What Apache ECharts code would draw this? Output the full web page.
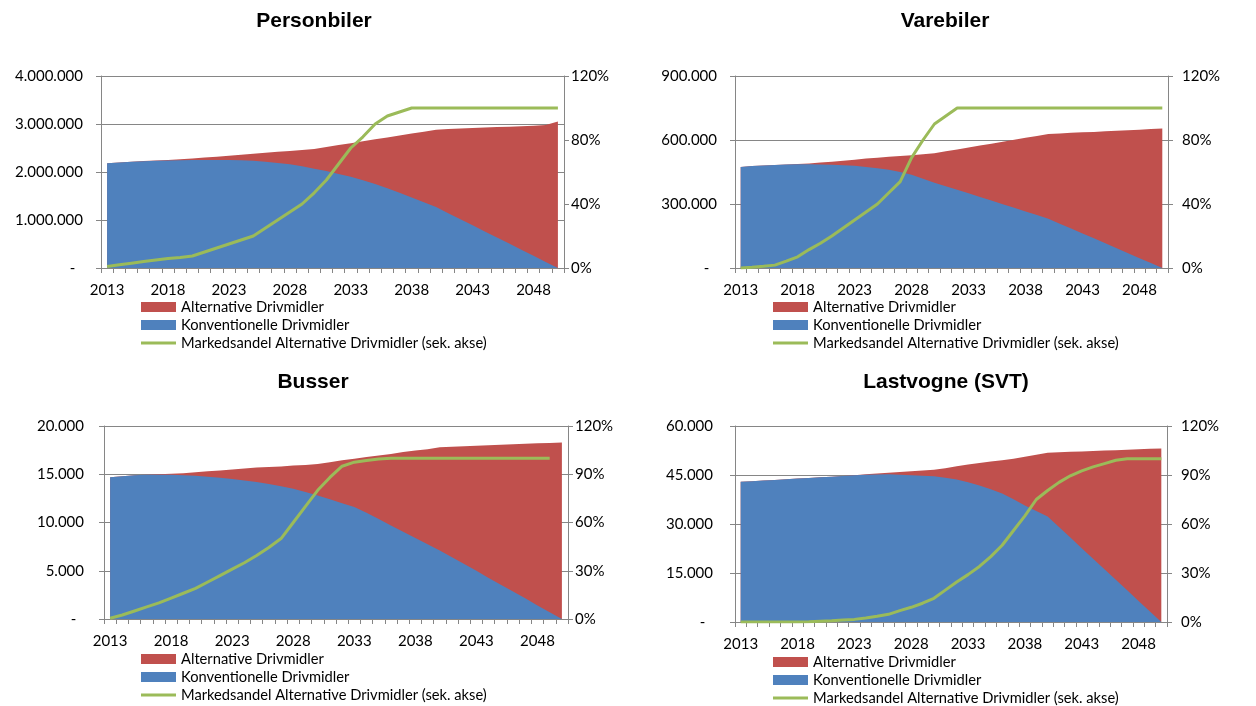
<!DOCTYPE html>
<html><head><meta charset="utf-8">
<script src="https://cdn.jsdelivr.net/npm/echarts@6/dist/echarts.min.js"></script>
<style>html,body{margin:0;padding:0;background:#fff}#c{width:1256px;height:706px}</style>
</head><body><div id="c"></div>
<script>
// ---------- DATA ----------
const years = ['2013','2014','2015','2016','2017','2018','2019','2020','2021','2022','2023','2024','2025','2026','2027','2028','2029','2030','2031','2032','2033','2034','2035','2036','2037','2038','2039','2040','2041','2042','2043','2044','2045','2046','2047','2048','2049','2050'];

const seriesNames = ['Alternative Drivmidler', 'Konventionelle Drivmidler', 'Markedsandel Alternative Drivmidler (sek. akse)'];
const panelTitles = ['Personbiler', 'Varebiler', 'Busser', 'Lastvogne (SVT)'];

// Personbiler: total fleet (top of red), conventional (blue), market share %
const personTotal = [2180000,2200000,2215000,2230000,2240000,2250000,2265000,2280000,2300000,2320000,2340000,2360000,2380000,2400000,2420000,2440000,2460000,2480000,2520000,2560000,2600000,2640000,2680000,2720000,2760000,2800000,2840000,2880000,2895000,2905000,2915000,2925000,2935000,2945000,2955000,2965000,2980000,3050000];
const personKonv = [2180000,2200000,2215000,2225000,2235000,2240000,2245000,2250000,2250000,2250000,2250000,2245000,2235000,2215000,2190000,2160000,2120000,2070000,2020000,1960000,1900000,1830000,1750000,1660000,1570000,1470000,1370000,1270000,1143000,1016000,889000,762000,635000,508000,381000,254000,127000,0];
const personShare = [1,2,3,4,5,6,6.5,7.5,10,12.5,15,17.5,20,25,30,35,40,47,55,65,75,82,90,95,97.5,100,100,100,100,100,100,100,100,100,100,100,100,100];

// Varebiler
const vareTotal = [473000,478000,481000,483000,485000,487000,490000,494000,498000,503000,508000,513000,517000,521000,525000,529000,533000,538000,547000,556000,565000,574000,583000,592000,601000,610000,619000,628000,631000,634000,636000,638000,641000,643000,646000,648000,651000,654000];
const vareKonv = [473000,478000,481000,483000,485000,486000,486000,485000,484000,482000,479000,474000,468000,460000,450000,437000,418000,400000,383000,367000,350000,333000,316000,299000,282000,265000,248000,231000,208000,185000,162000,139000,116000,92000,69000,46000,23000,0];
const vareShare = [0,0.5,1.1,1.8,4.3,7,11.5,15.5,20,25,30,35,40,47,54,69,80,90,95,100,100,100,100,100,100,100,100,100,100,100,100,100,100,100,100,100,100,100];

// Busser
const busTotal = [14700,14800,14900,14950,15000,15050,15100,15200,15300,15400,15500,15600,15700,15750,15800,15900,15950,16050,16250,16450,16600,16800,16950,17100,17300,17450,17600,17800,17850,17900,17950,18000,18050,18100,18150,18200,18250,18300];
const busKonv = [14700,14800,14900,14950,14950,14950,14900,14850,14750,14650,14500,14350,14200,14000,13750,13500,13150,12800,12400,12000,11600,11000,10350,9700,9050,8400,7750,7100,6400,5700,5000,4250,3550,2850,2150,1400,700,0];
const busShare = [0.5,2.5,5,7.5,10,13,16,19,23,27,31,35,39.5,44.5,50,60,70,80,88,95,97.5,98.5,99.5,100,100,100,100,100,100,100,100,100,100,100,100,100,100,null];

// Lastvogne (SVT)
const truckTotal = [42900,43100,43300,43500,43700,43900,44100,44300,44500,44700,44900,45200,45450,45700,45900,46150,46400,46600,47100,47700,48200,48650,49100,49550,50000,50600,51200,51800,51950,52100,52200,52350,52500,52600,52750,52850,53000,53100];
const truckKonv = [42900,43100,43300,43500,43700,43900,44100,44300,44500,44700,44900,45050,45150,45200,45100,44950,44800,44600,44150,43600,42750,41800,40600,39300,37600,35700,34000,32300,29100,25850,22600,19400,16150,12900,9700,6450,3250,0];
const truckShare = [0,0,0,0,0,0,0.2,0.5,0.8,1.2,1.6,2.5,3.5,4.7,7,9,11.5,14.5,19.5,24.5,29,34,40,47,56,65,75,80.5,85.5,89.5,92.5,95,97,99,100,100,100,100];

// Axis scales
const leftMax = [4000000, 900000, 20000, 60000];
const leftInterval = [1000000, 300000, 5000, 15000];
const rightInterval = [40, 40, 30, 30];

const panelData = [
  [personTotal, personKonv, personShare],
  [vareTotal, vareKonv, vareShare],
  [busTotal, busKonv, busShare],
  [truckTotal, truckKonv, truckShare]
];

// ---------- LAYOUT / STYLE ----------
const RED = '#C0504D', BLUE = '#4F81BD', GREEN = '#9BBB59', AX = '#868686';
const FONT = 'Lato';
const grids = [
  {left: 101, top: 76, width: 463, height: 192},
  {left: 735, top: 76, width: 433, height: 192},
  {left: 104, top: 426, width: 464, height: 193},
  {left: 735, top: 426, width: 432, height: 196}
];
const titlePos = [{x: 314, y: 11}, {x: 945, y: 11}, {x: 313, y: 372}, {x: 946, y: 372}];
const legendPos = [{x: 141, y: 299}, {x: 773, y: 299}, {x: 141, y: 651}, {x: 773, y: 654}];
const leftMargin = [18, 18, 20, 22];
const rightMargin = [7, 14, 7, 14];
const lineIcon = 'path://M0,0h0.05v0.05h-0.05z M0,3.5h35v3h-35z M34.95,9.95h0.05v0.05h-0.05z';

function fmtThousands(v) {
  if (v === 0) return '-  ';
  return String(v).replace(/\B(?=(\d{3})+(?!\d))/g, '.');
}

const option = {
  animation: false,
  backgroundColor: '#fff',
  textStyle: {fontFamily: FONT},
  title: panelTitles.map((t, i) => ({
    text: t, left: titlePos[i].x, top: titlePos[i].y, textAlign: 'center', padding: 0,
    textStyle: {fontFamily: 'Liberation Sans', fontWeight: 'bold', fontSize: 21, color: '#000'}
  })),
  legend: legendPos.map((p) => ({
    orient: 'vertical', left: p.x, top: p.y, itemWidth: 35, itemHeight: 10, itemGap: 2, padding: 0,
    selectedMode: false,
    textStyle: {fontFamily: FONT, fontSize: 14.7, color: '#000', lineHeight: 16},
    data: [
      {name: seriesNames[0], icon: 'rect'},
      {name: seriesNames[1], icon: 'rect'},
      {name: seriesNames[2], icon: lineIcon, itemStyle: {color: GREEN, borderWidth: 0}}
    ]
  })),
  grid: grids,
  xAxis: grids.map((g, i) => ({
    type: 'category', gridIndex: i, data: years, boundaryGap: true,
    axisLine: {show: true, lineStyle: {color: AX, width: 1}},
    axisTick: {show: true, interval: 0, length: 5, lineStyle: {color: AX}},
    axisLabel: {interval: 4, margin: 15, fontFamily: FONT, fontSize: 15, color: '#000'},
    splitLine: {show: false}
  })),
  yAxis: [],
  series: []
};

grids.forEach((g, i) => {
  option.yAxis.push({
    type: 'value', gridIndex: i, min: 0, max: leftMax[i], interval: leftInterval[i],
    axisLine: {show: true, lineStyle: {color: AX}},
    axisTick: {show: true, length: 5, lineStyle: {color: AX}},
    axisLabel: {margin: leftMargin[i], fontFamily: FONT, fontSize: 15, color: '#000', formatter: fmtThousands},
    splitLine: {show: true, lineStyle: {color: AX, width: 1}}
  });
  option.yAxis.push({
    type: 'value', gridIndex: i, position: 'right', min: 0, max: 120, interval: rightInterval[i],
    axisLine: {show: true, lineStyle: {color: AX}},
    axisTick: {show: true, length: 5, lineStyle: {color: AX}},
    axisLabel: {margin: rightMargin[i], fontFamily: FONT, fontSize: 15, color: '#000', formatter: '{value}%'},
    splitLine: {show: false}
  });
  const [tot, konv, share] = panelData[i];
  option.series.push({
    name: seriesNames[0], type: 'line', xAxisIndex: i, yAxisIndex: 2 * i, data: tot,
    symbol: 'none', lineStyle: {width: 0, color: RED}, itemStyle: {color: RED},
    areaStyle: {color: RED, opacity: 1}, z: 1
  });
  option.series.push({
    name: seriesNames[1], type: 'line', xAxisIndex: i, yAxisIndex: 2 * i, data: konv,
    symbol: 'none', lineStyle: {width: 0, color: BLUE}, itemStyle: {color: BLUE},
    areaStyle: {color: BLUE, opacity: 1}, z: 2
  });
  option.series.push({
    name: seriesNames[2], type: 'line', xAxisIndex: i, yAxisIndex: 2 * i + 1, data: share,
    symbol: 'none', showSymbol: false, lineStyle: {width: 3, color: GREEN}, itemStyle: {color: GREEN}, z: 3
  });
});

const chart = echarts.init(document.getElementById('c'), null, {renderer: 'canvas'});
chart.setOption(option);
</script></body></html>
